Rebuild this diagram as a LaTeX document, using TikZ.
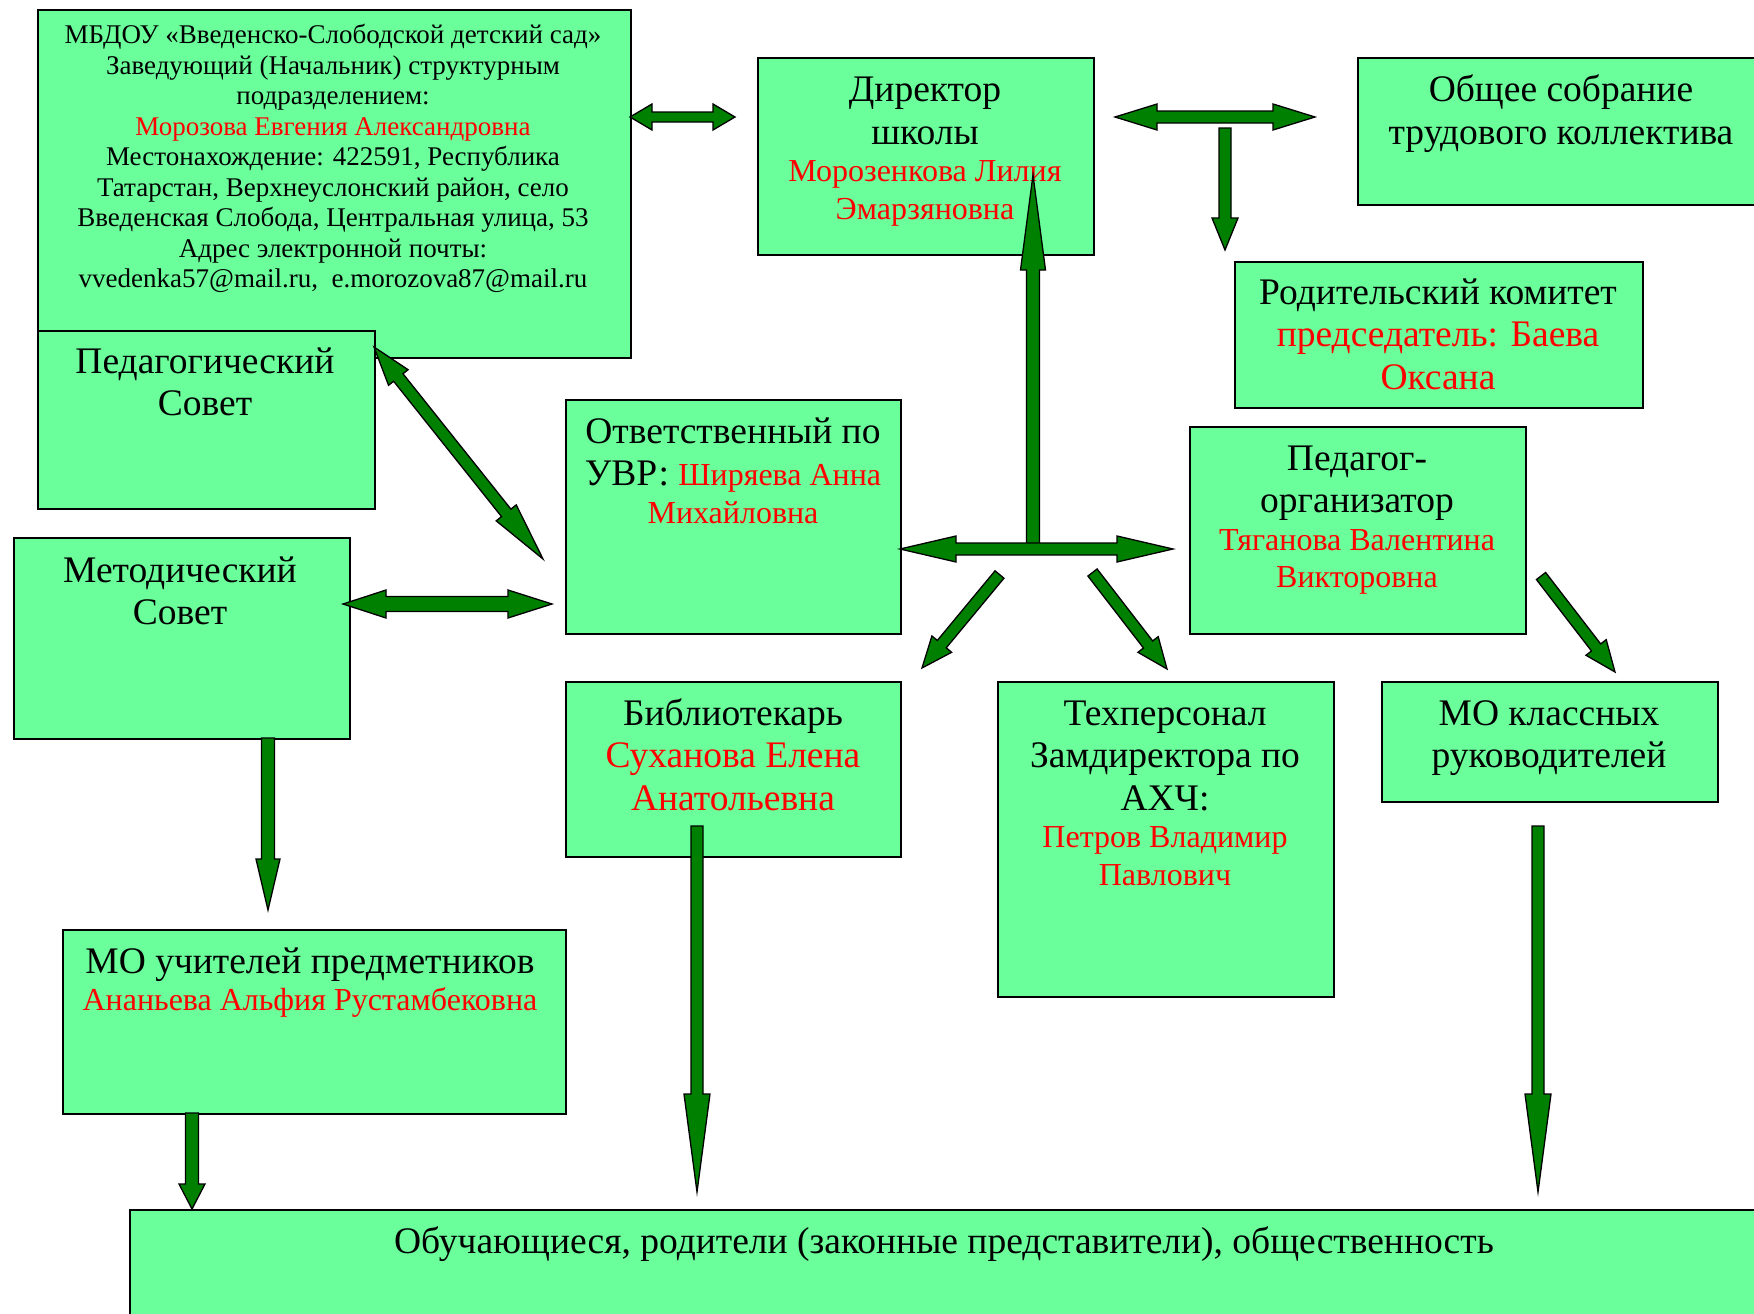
\documentclass[tikz,border=0pt]{standalone}
\usepackage{fontspec}
\setmainfont{Liberation Serif}
\usetikzlibrary{calc}
\definecolor{boxfill}{RGB}{106,255,154}
\definecolor{arrowgreen}{RGB}{0,128,0}
\definecolor{namered}{RGB}{255,0,0}
\newcommand\fbig{\fontsize{37.5}{42.5}\selectfont}
\newcommand\fred{\fontsize{32}{37.5}\selectfont\color{namered}}
\newcommand\fbigred{\fontsize{37.5}{42.5}\selectfont\color{namered}}
\newcommand\fsmall{\fontsize{27}{30.5}\selectfont}
\newcommand\txtblock[1]{\parbox[t]{1500pt}{\centering #1\par}}
% #1 start, #2 end, #3 shaft half width, #4 start head half width, #5 start head length,
% #6 end head half width, #7 end head length
\newcommand\blockarrow[7]{%
  \draw[barrow] let \p1=(#1), \p2=(#2), \n1={atan2(\y2-\y1,\x2-\x1)} in
    (\p1)
    -- ($(\p1)+({\n1}:{#5pt})+({\n1+90}:{#4pt})$)
    -- ($(\p1)+({\n1}:{#5pt})+({\n1+90}:{#3pt})$)
    -- ($(\p2)+({\n1+180}:{#7pt})+({\n1+90}:{#3pt})$)
    -- ($(\p2)+({\n1+180}:{#7pt})+({\n1+90}:{#6pt})$)
    -- (\p2)
    -- ($(\p2)+({\n1+180}:{#7pt})+({\n1-90}:{#6pt})$)
    -- ($(\p2)+({\n1+180}:{#7pt})+({\n1-90}:{#3pt})$)
    -- ($(\p1)+({\n1}:{#5pt})+({\n1-90}:{#3pt})$)
    -- ($(\p1)+({\n1}:{#5pt})+({\n1-90}:{#4pt})$)
    -- cycle;
}
\tikzset{
  orgbox/.style={draw=black, line width=2pt, fill=boxfill, anchor=north west, inner sep=0pt},
  txt/.style={anchor=base, inner sep=0pt},
  barrow/.style={draw=black, line width=1.3pt, fill=arrowgreen, line join=miter},
}
\begin{document}
\begin{tikzpicture}[x=1pt,y=-1pt]
\clip (0,0) rectangle (1754,1314);
\fill[white] (0,0) rectangle (1754,1314);

% boxes
\node[orgbox, minimum width=593pt, minimum height=348pt] (mbdou) at (37,9) {};
\node[orgbox, minimum width=336pt, minimum height=197pt] (dir) at (757,57) {};
\node[orgbox, minimum width=408pt, minimum height=147pt] (obsh) at (1357,57) {};
\node[orgbox, minimum width=408pt, minimum height=146pt] (rod) at (1234,261) {};
\node[orgbox, minimum width=337pt, minimum height=178pt] (ped) at (37,330) {};
\node[orgbox, minimum width=336pt, minimum height=201pt] (met) at (13,537) {};
\node[orgbox, minimum width=335pt, minimum height=234pt] (otv) at (565,399) {};
\node[orgbox, minimum width=335pt, minimum height=175pt] (bib) at (565,681) {};
\node[orgbox, minimum width=336pt, minimum height=207pt] (porg) at (1189,426) {};
\node[orgbox, minimum width=336pt, minimum height=315pt] (tech) at (997,681) {};
\node[orgbox, minimum width=336pt, minimum height=120pt] (mok) at (1381,681) {};
\node[orgbox, minimum width=503pt, minimum height=184pt] (mou) at (62,929) {};
\node[orgbox, minimum width=1641pt, minimum height=130pt] (obuch) at (129,1209) {};

% texts
\node[txt] (mbdoutxt) at (333,44) {\txtblock{\fsmall
МБДОУ «Введенско-Слободской детский сад»\\
Заведующий (Начальник) структурным\\
подразделением:\\
{\color{namered}Морозова Евгения Александровна}\\
Местонахождение: 422591, Республика\\
Татарстан, Верхнеуслонский район, село\\
Введенская Слобода, Центральная улица, 53\\
Адрес электронной почты:\\
vvedenka57@mail.ru,\ \ e.morozova87@mail.ru}};

\node[txt] (dirtxt) at (925,102) {\txtblock{\fbig Директор\\школы\par\fred Морозенкова Лилия\\Эмарзяновна}};
\node[txt] (obshtxt) at (1561,102) {\txtblock{\fbig Общее собрание\\трудового коллектива}};
\node[txt] (rodtxt) at (1438,304) {\txtblock{\fbig Родительский комитет\\{\fbigred председатель: Баева\\Оксана}}};
\node[txt] (pedtxt) at (205,373) {\txtblock{\fbig Педагогический\\Совет}};
\node[txt] (mettxt) at (180,582) {\txtblock{\fbig Методический\\Совет}};
\node[txt] (otvtxt) at (733,443) {\txtblock{\fbig Ответственный по\\УВР: {\fred Ширяева Анна}\par\fred Михайловна}};
\node[txt] (porgtxt) at (1357,470) {\txtblock{\fbig Педагог-\\организатор\par\fred Тяганова Валентина\\Викторовна}};
\node[txt] (bibtxt) at (733,725) {\txtblock{\fbig Библиотекарь\\{\fbigred Суханова Елена\\Анатольевна}}};
\node[txt] (techtxt) at (1165,725) {\txtblock{\fbig Техперсонал\\Замдиректора по\\АХЧ:\par\fred Петров Владимир\\Павлович}};
\node[txt] (moktxt) at (1549,725) {\txtblock{\fbig МО классных\\руководителей}};
\node[txt] (moutxt) at (310,973) {\txtblock{\fbig МО учителей предметников\par\fred Ананьева Альфия Рустамбековна}};
\node[txt] (obuchtxt) at (944,1253) {\txtblock{\fbig Обучающиеся, родители (законные представители), общественность}};

% arrow end points
\coordinate (a1s) at (630,117);  \coordinate (a1e) at (735,117);
\coordinate (a2s) at (1115,117); \coordinate (a2e) at (1315,117);
\coordinate (a3s) at (1225,128); \coordinate (a3e) at (1225,250);
\coordinate (a4s) at (1033,551); \coordinate (a4e) at (1033,175);
\coordinate (a5s) at (900,549);  \coordinate (a5e) at (1173,549);
\coordinate (a6s) at (999.5,574.5); \coordinate (a6e) at (922,668);
\coordinate (a7s) at (1092.5,572.5); \coordinate (a7e) at (1167,669);
\coordinate (a8s) at (1541,576); \coordinate (a8e) at (1615,672);
\coordinate (a9s) at (374,347);  \coordinate (a9e) at (543,559);
\coordinate (a10s) at (343,604); \coordinate (a10e) at (552,604);
\coordinate (a11s) at (268,738); \coordinate (a11e) at (268,910);
\coordinate (a12s) at (697,826); \coordinate (a12e) at (697,1192);
\coordinate (a13s) at (1538,826); \coordinate (a13e) at (1538,1192);
\coordinate (a14s) at (192,1113); \coordinate (a14e) at (192,1209);

% arrows
\blockarrow{a1s}{a1e}{5}{13}{22}{13}{22}
\blockarrow{a2s}{a2e}{6}{13}{42}{13}{42}
\blockarrow{a3s}{a3e}{6}{6}{0}{13}{32}
\blockarrow{a4s}{a4e}{6.5}{6.5}{0}{12.5}{95}
\blockarrow{a5s}{a5e}{6}{13}{56}{13}{56}
\blockarrow{a6s}{a6e}{5.8}{5.8}{0}{12.8}{31}
\blockarrow{a7s}{a7e}{5.8}{5.8}{0}{12.8}{31}
\blockarrow{a8s}{a8e}{5.8}{5.8}{0}{12.8}{31}
\blockarrow{a9s}{a9e}{6}{12.5}{39}{12.8}{59}
\blockarrow{a10s}{a10e}{7.5}{14}{43}{14}{44}
\blockarrow{a11s}{a11e}{6.5}{6.5}{0}{12}{51}
\blockarrow{a12s}{a12e}{6}{6}{0}{13}{98}
\blockarrow{a13s}{a13e}{6}{6}{0}{13}{98}
\blockarrow{a14s}{a14e}{6.5}{6.5}{0}{13}{25}
\end{tikzpicture}
\end{document}
